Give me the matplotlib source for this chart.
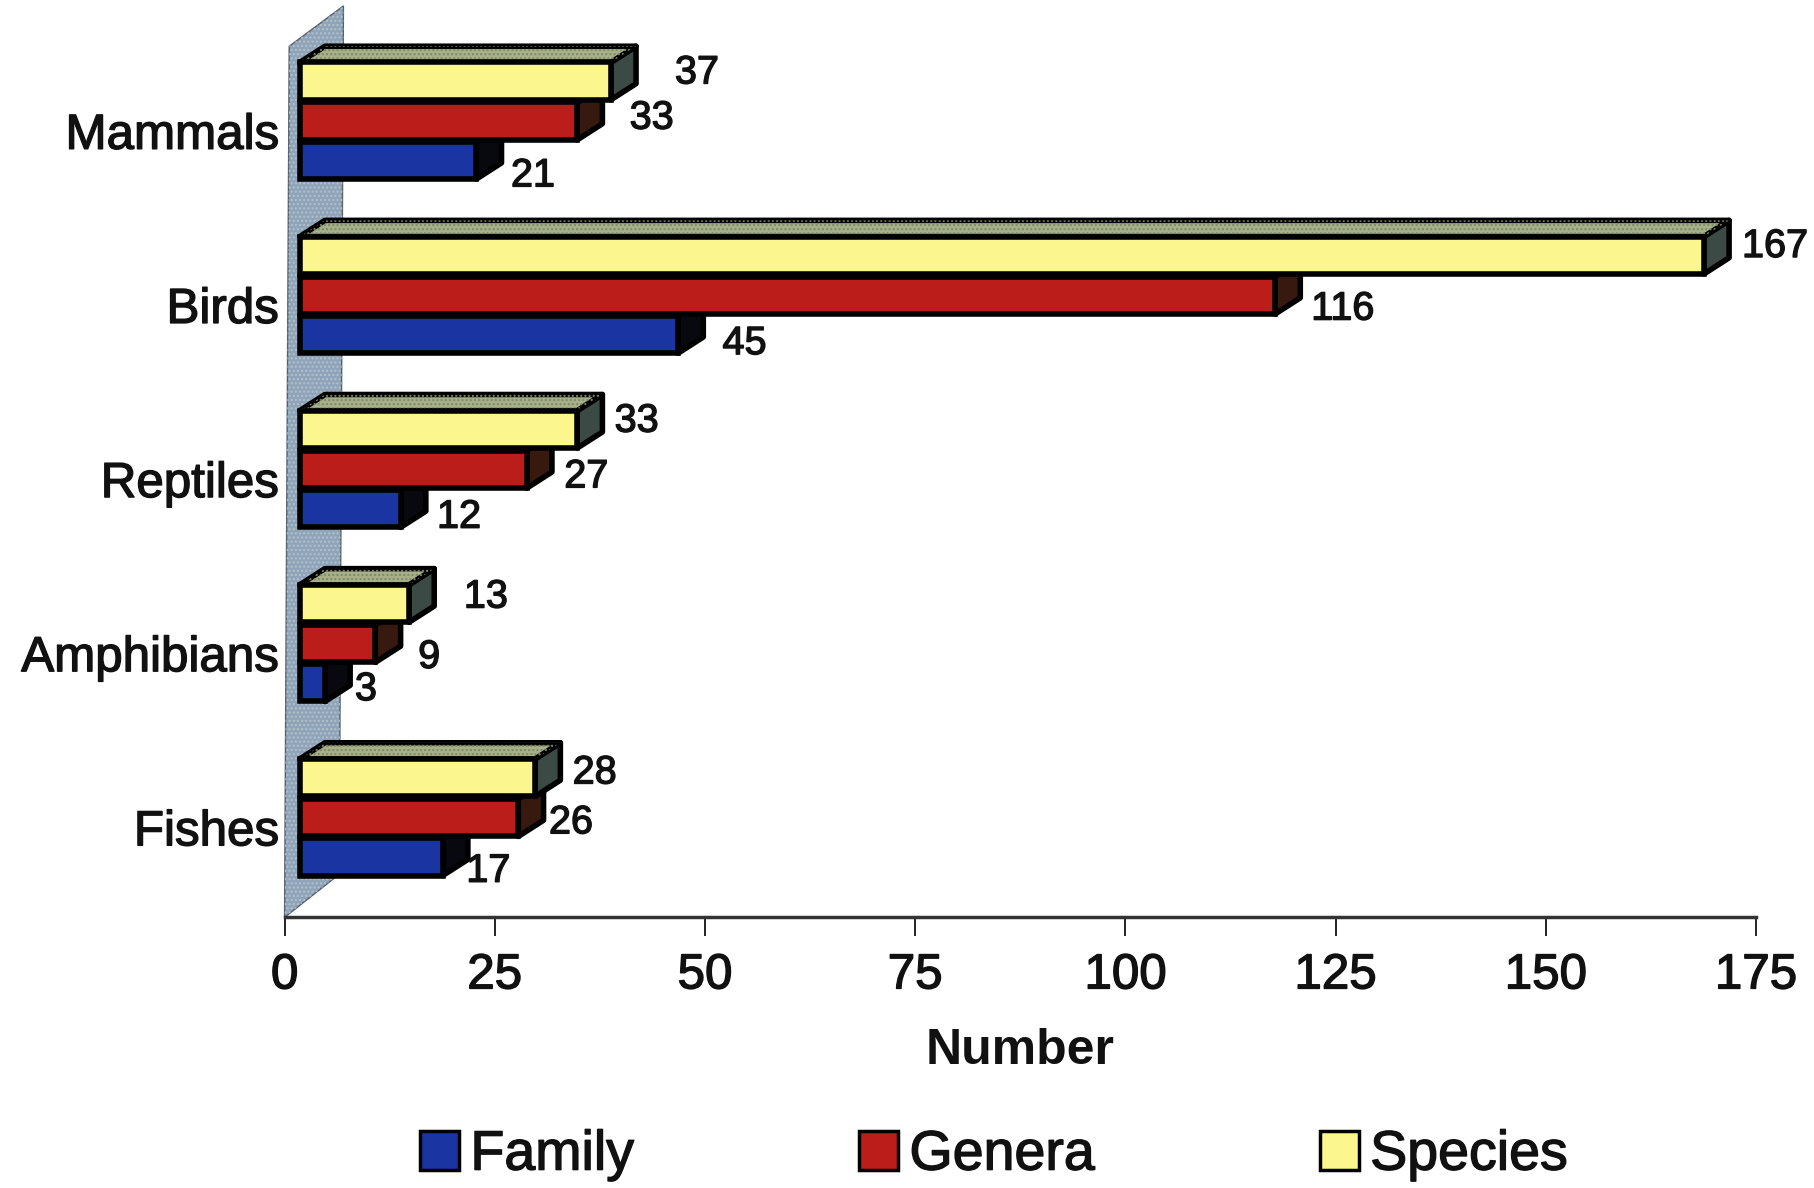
#!/usr/bin/env python3
"""Horizontal pseudo-3D bar chart: family, genera and species counts per animal group."""

import matplotlib
matplotlib.use("Agg")
import matplotlib.pyplot as plt
import matplotlib.patches as mpatches
import matplotlib.patheffects as pe
import numpy as np

plt.rcParams["font.family"] = ["Liberation Sans", "DejaVu Sans"]
plt.rcParams["hatch.linewidth"] = 1.0

# ── Data ──────────────────────────────────────────────────────────────────────
GROUPS = ["Fishes", "Amphibians", "Reptiles", "Birds", "Mammals"]
FAMILY = [17, 3, 12, 45, 21]
GENERA = [26, 9, 27, 116, 33]
SPECIES = [28, 13, 33, 167, 37]
X_TICKS = [0, 25, 50, 75, 100, 125, 150, 175]

# ── Style ─────────────────────────────────────────────────────────────────────
W, H = 1815, 1188
SEEN_W = 1569                 # offsets below were measured on a view this wide
SCALE = W / SEEN_W
SEEN_H = H / SCALE

FRONT_LEFT = 1.8              # front plane sits this far from the wall's foot
DEPTH_X, DEPTH_Y = 3.0, 0.093
BAR_H = 0.215
ROWS = [-0.225, 0.0, 0.23]    # family, genera, species inside a group
FACE = ["#1a34a2", "#bb1e1a", "#fbf68e"]
SIDE = ["#08080f", "#38190f", "#3c4a45"]
TOP = "#a7b088"
WALL = "#8fa4b8"
NAMES = ["Family", "Genera", "Species"]
EDGE = 4
HEAVY = [pe.withStroke(linewidth=1.0, foreground="#111")]

# label offsets from the bar end, (right, down) in view pixels
FAMILY_OFF = [(39.5, 12), (35.5, 5.5), (50.5, 7), (57.5, 7.5), (49, 13)]
GENERA_OFF = [(45.5, 4), (46.5, 11.5), (51.5, 6), (58.5, 11.5), (64.5, -3)]
SPECIES_OFF = [(51.5, -4.5), (66.5, -6), (51.5, -7.5), (61.5, -8), (74.5, -7.5)]

# ── Figure ────────────────────────────────────────────────────────────────────
fig = plt.figure(figsize=(W / 100, H / 100), dpi=100, facecolor="white")
ax = fig.add_axes([246 / SEEN_W, 1 - 793 / SEEN_H, (1518 - 246) / SEEN_W, 793 / SEEN_H])
ax.set_xlim(0, 175)
ax.set_ylim(-0.572, 4.696)
ax.spines[["top", "right", "left"]].set_visible(False)
ax.spines["bottom"].set_linewidth(2.5)
ax.spines["bottom"].set_color("#333")
ax.patch.set_alpha(0)

# Wall behind the bars
wall_pts = [(0, -0.572), (6.5, -0.325), (7.0, 4.662), (0.55, 4.43)]
ax.add_patch(mpatches.Polygon(wall_pts, closed=True, facecolor=WALL, edgecolor="#55606a",
                              linewidth=1, clip_on=False, zorder=1))
ax.add_patch(mpatches.Polygon(wall_pts, closed=True, facecolor="none", edgecolor="#b3c1cc",
                              linewidth=0, hatch="....", clip_on=False, zorder=1))

y = np.arange(len(GROUPS))
series = [FAMILY, GENERA, SPECIES]
offsets = [FAMILY_OFF, GENERA_OFF, SPECIES_OFF]

for k, values in enumerate(series):
    pos = y + ROWS[k]
    ax.barh(pos, values, BAR_H, left=FRONT_LEFT, color=FACE[k], edgecolor="black",
            linewidth=EDGE, zorder=3 + k)
    for p, v in zip(pos, values):
        x1 = FRONT_LEFT + v
        ytop, ybot = p + BAR_H / 2, p - BAR_H / 2
        ax.add_patch(mpatches.Polygon(
            [(x1, ybot), (x1 + DEPTH_X, ybot + DEPTH_Y), (x1 + DEPTH_X, ytop + DEPTH_Y), (x1, ytop)],
            closed=True, facecolor=SIDE[k], edgecolor="black", linewidth=EDGE,
            joinstyle="round", zorder=2 + k))
        if k == 2:
            top_pts = [(FRONT_LEFT, ytop), (FRONT_LEFT + DEPTH_X, ytop + DEPTH_Y),
                       (x1 + DEPTH_X, ytop + DEPTH_Y), (x1, ytop)]
            ax.add_patch(mpatches.Polygon(top_pts, closed=True, facecolor=TOP, edgecolor="black",
                                          linewidth=EDGE, joinstyle="round", zorder=4))
            ax.add_patch(mpatches.Polygon(top_pts, closed=True, facecolor="none", edgecolor="#7c8a66",
                                          linewidth=0, hatch="....", zorder=4))
    for p, v, (dx, dy) in zip(pos, values, offsets[k]):
        ax.annotate(str(v), xy=(FRONT_LEFT + v, p), xytext=(dx * SCALE, -dy * SCALE),
                    textcoords="offset pixels", ha="center", va="center",
                    fontsize=28.5, color="#111", zorder=8, path_effects=HEAVY)

# Axes text
ax.set_xticks(X_TICKS)
ax.tick_params(axis="x", length=14, width=1.3, pad=12, labelsize=35.5, colors="#111")
ax.set_yticks(y - 0.058)
ax.set_yticklabels(GROUPS, fontsize=35.5, color="#111")
ax.tick_params(axis="y", length=0, pad=4)
ax.set_xlabel("Number", fontsize=36, fontweight="bold", color="#111", labelpad=21)
for t in ax.get_xticklabels() + ax.get_yticklabels():
    t.set_path_effects(HEAVY)

# Legend
handles = [mpatches.Patch(facecolor=c, edgecolor="black", linewidth=2.5, label=n)
           for c, n in zip(FACE, NAMES)]
leg = fig.legend(handles=handles, loc="center", bbox_to_anchor=(859 / SEEN_W, 1 - 999 / SEEN_H),
                 ncol=3, frameon=False, fontsize=40, handlelength=0.71, handleheight=0.71,
                 handletextpad=0.2, columnspacing=4.05, labelcolor="#111",
                 borderpad=0, borderaxespad=0)
for t in leg.get_texts():
    t.set_path_effects(HEAVY)

fig.savefig("out.png", dpi=100, facecolor="white")
plt.close(fig)
